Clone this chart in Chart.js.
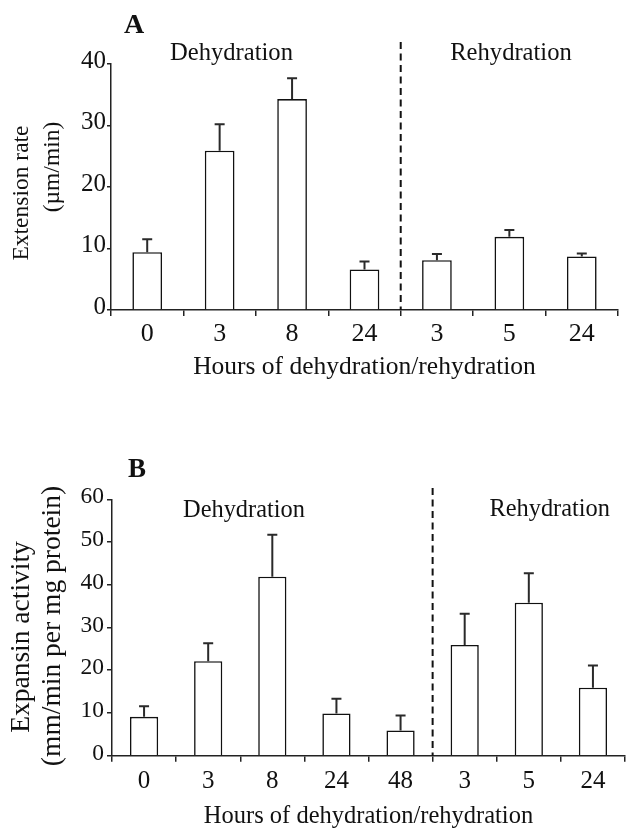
<!DOCTYPE html>
<html><head><meta charset="utf-8">
<script src="https://cdn.jsdelivr.net/npm/chart.js@4.4.1/dist/chart.umd.min.js"></script>
<style>
html,body{margin:0;padding:0;background:#fff;}
#wrap{position:relative;width:626px;height:834px;overflow:hidden;background:#fff;}
canvas{position:absolute;left:0;}
</style></head><body>
<div id="wrap">
<canvas id="cA" width="626" height="400" style="top:0"></canvas>
<canvas id="cB" width="626" height="404" style="top:430px"></canvas>
</div>
<script>
// ---- data ----
const hoursA = ['0', '3', '8', '24', '3', '5', '24'];
const extensionRate = [9.4, 25.9, 34.3, 6.6, 8.1, 11.9, 8.7];
const extensionErr = [2.1, 4.3, 3.4, 1.3, 1.0, 1.1, 0.5];
const yTicksA = [0, 10, 20, 30, 40];

const hoursB = ['0', '3', '8', '24', '48', '3', '5', '24'];
const expansinActivity = [9.1, 22.1, 41.9, 9.9, 5.9, 25.9, 35.8, 15.9];
const expansinErr = [2.5, 4.2, 9.8, 3.4, 3.5, 7.3, 6.9, 5.2];
const yTicksB = [0, 10, 20, 30, 40, 50, 60];

const SERIF = "'Liberation Serif', 'Times New Roman', Times, serif";
const INK = '#111';

const figPlugin = {
  id: 'fig',
  afterDatasetsDraw(chart, args, o) {
    const ctx = chart.ctx, xs = chart.scales.x, ys = chart.scales.y;
    const meta = chart.getDatasetMeta(0);
    const vals = chart.data.datasets[0].data;
    ctx.save();
    // error bars (upper only)
    ctx.strokeStyle = '#2a2a2a'; ctx.lineWidth = 2;
    meta.data.forEach((bar, i) => {
      const y0 = ys.getPixelForValue(vals[i]);
      const y1 = ys.getPixelForValue(vals[i] + o.errors[i]);
      ctx.beginPath();
      ctx.moveTo(bar.x, y0); ctx.lineTo(bar.x, y1);
      ctx.moveTo(bar.x - o.cap / 2, y1); ctx.lineTo(bar.x + o.cap / 2, y1);
      ctx.stroke();
    });
    // dashed divider between dehydration and rehydration
    const xd = (xs.getPixelForValue(o.divideAfter) + xs.getPixelForValue(o.divideAfter + 1)) / 2;
    ctx.strokeStyle = INK; ctx.lineWidth = 2; ctx.setLineDash([7, 4.5]);
    ctx.beginPath(); ctx.moveTo(xd, o.dividerTop); ctx.lineTo(xd, ys.bottom); ctx.stroke();
    ctx.setLineDash([]);
    // texts
    ctx.fillStyle = INK;
    o.texts.forEach(t => {
      ctx.font = t.font;
      if (t.rot) {
        ctx.save();
        ctx.translate(t.x, t.y); ctx.rotate(-Math.PI / 2);
        ctx.textAlign = 'center'; ctx.textBaseline = 'middle';
        ctx.fillText(t.text, 0, 0);
        ctx.restore();
      } else {
        ctx.textAlign = 'center'; ctx.textBaseline = 'alphabetic';
        ctx.fillText(t.text, t.x, t.y);
      }
    });
    ctx.restore();
  }
};

function makeChart(id, cfg) {
  return new Chart(document.getElementById(id), {
    type: 'bar',
    data: {
      labels: cfg.labels,
      datasets: [{
        data: cfg.values,
        backgroundColor: '#fff',
        borderColor: INK,
        borderWidth: 1.6,
        barPercentage: cfg.barPct,
        categoryPercentage: 1
      }]
    },
    options: {
      responsive: false,
      animation: false,
      devicePixelRatio: 1,
      layout: { padding: cfg.padding },
      plugins: {
        legend: { display: false },
        tooltip: { enabled: false },
        fig: cfg.fig
      },
      scales: {
        x: {
          type: 'category',
          offset: true,
          grid: { offset: true, drawOnChartArea: false, drawTicks: true, tickLength: 6, color: '#222', lineWidth: 1.5 },
          border: { display: true, color: '#222', width: 1.5 },
          ticks: { color: INK, font: { family: SERIF, size: cfg.xTickSize }, padding: cfg.xTickPad, maxRotation: 0, autoSkip: false },
          title: { display: true, text: 'Hours of dehydration/rehydration', color: INK,
                   font: { family: SERIF, size: cfg.xTitleSize }, padding: { top: 0, bottom: cfg.xTitlePad } },
          afterFit: s => { s.height = cfg.xHeight; }
        },
        y: {
          min: 0, max: cfg.yMax,
          afterBuildTicks: s => { s.ticks = cfg.yTicks.map(v => ({ value: v })); },
          grid: { drawOnChartArea: false, drawTicks: true, tickLength: cfg.yTickLen, color: '#222', lineWidth: 1.5 },
          border: { display: true, color: '#222', width: 1.5 },
          ticks: { color: INK, font: { family: SERIF, size: cfg.yTickSize }, padding: cfg.yTickPad, labelOffset: cfg.yLabelOffset },
          afterFit: s => { s.width = cfg.yWidth; }
        }
      }
    },
    plugins: [figPlugin]
  });
}

makeChart('cA', {
  labels: hoursA, values: extensionRate, yTicks: yTicksA, yMax: 40, barPct: 0.41,
  padding: { left: 0, right: 8, top: 64, bottom: 0 },
  xHeight: 90, yWidth: 111,
  xTickSize: 26, xTickPad: 2.6, xTitleSize: 25.5, xTitlePad: 17,
  yTickSize: 25, yTickPad: 1, yTickLen: 4, yLabelOffset: -3,
  fig: {
    errors: extensionErr, cap: 10, divideAfter: 3, dividerTop: 42,
    texts: [
      { text: 'A', x: 134, y: 33, font: 'bold 28px ' + SERIF },
      { text: 'Dehydration', x: 231.5, y: 59.5, font: '24.6px ' + SERIF },
      { text: 'Rehydration', x: 511, y: 60, font: '24.6px ' + SERIF },
      { text: 'Extension rate', x: 22, y: 193, font: '23.5px ' + SERIF, rot: true },
      { text: '(\u00b5m/min)', x: 53, y: 167, font: '23.5px ' + SERIF, rot: true }
    ]
  }
});

makeChart('cB', {
  labels: hoursB, values: expansinActivity, yTicks: yTicksB, yMax: 60, barPct: 0.44,
  padding: { left: 0, right: 1, top: 69.3, bottom: 0 },
  xHeight: 78.3, yWidth: 112,
  xTickSize: 25, xTickPad: 4.9, xTitleSize: 24.5, xTitlePad: 3,
  yTickSize: 23.5, yTickPad: 3, yTickLen: 5, yLabelOffset: -2,
  fig: {
    errors: expansinErr, cap: 10, divideAfter: 4, dividerTop: 58,
    texts: [
      { text: 'B', x: 137, y: 47, font: 'bold 27px ' + SERIF },
      { text: 'Dehydration', x: 244, y: 87.3, font: '24.4px ' + SERIF },
      { text: 'Rehydration', x: 549.7, y: 86, font: '24.4px ' + SERIF },
      { text: 'Expansin activity', x: 22, y: 207, font: '27.5px ' + SERIF, rot: true },
      { text: '(mm/min per mg protein)', x: 53, y: 196, font: '27.5px ' + SERIF, rot: true }
    ]
  }
});
</script>
</body></html>
